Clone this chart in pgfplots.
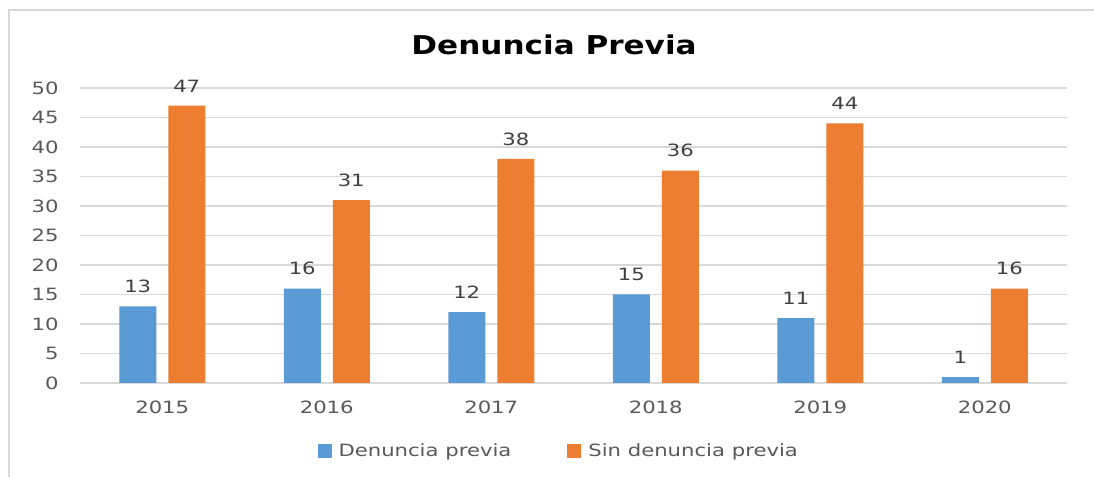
\documentclass[border=0pt]{standalone}
\usepackage{pgfplots}
\pgfplotsset{compat=1.18}
\usepackage{fontspec}
\setmainfont[FakeStretch=1.25]{DejaVu Sans}
\newfontfamily\titlefont[FakeStretch=1.2]{DejaVu Sans Bold}
\definecolor{cblue}{HTML}{5B9BD5}
\definecolor{corange}{HTML}{ED7D31}
\definecolor{txt}{HTML}{595959}
\definecolor{lbl}{HTML}{404040}
\definecolor{gridc}{HTML}{D9D9D9}
\begin{document}
\begin{tikzpicture}
\useasboundingbox (0,0) rectangle (1094bp,477bp);
\fill[white] (0,0) rectangle (1094bp,477bp);
\draw[gridc, line width=1.5bp] (9bp,-10bp) -- (9bp,467bp) -- (1110bp,467bp);
\node[font=\titlefont\fontsize{26}{30}\selectfont, text=black] at (554bp,432bp) {Denuncia Previa};
\begin{axis}[
  at={(80bp,94bp)}, anchor=south west,
  width=987bp, height=295bp, scale only axis,
  ybar=12bp, bar width=37bp,
  xmin=-0.5, xmax=5.5, ymin=0, ymax=50,
  xtick=data, xticklabels={2015,2016,2017,2018,2019,2020},
  ytick={0,5,...,50},
  xmajorgrids=false,
  ymajorgrids, major grid style={draw=gridc, line width=1.5bp},
  axis line style={draw=none}, tick style={draw=none},
  ticklabel style={font=\fontsize{17}{20}\selectfont, text=txt},
  /pgf/number format/assume math mode=true,
  yticklabel style={xshift=-18bp},
  xticklabel style={yshift=-10bp},
  nodes near coords,
  nodes near coords style={font=\fontsize{17}{20}\selectfont, text=lbl, yshift=10bp},
  legend columns=2,
  legend style={draw=none, at={(0.485,-0.23)}, anchor=center,
    font=\fontsize{17}{20}\selectfont, text=txt,
    /tikz/every even column/.append style={column sep=54bp}},
  legend image code/.code={\fill[#1] (0bp,-7bp) rectangle (14bp,7bp); \path (0bp,0bp) -- (19bp,0bp);},
]
\addplot[fill=cblue, draw=none] coordinates {(0,13) (1,16) (2,12) (3,15) (4,11) (5,1)};
\addplot[fill=corange, draw=none] coordinates {(0,47) (1,31) (2,38) (3,36) (4,44) (5,16)};
\legend{Denuncia previa, Sin denuncia previa}
\end{axis}
\end{tikzpicture}
\end{document}
